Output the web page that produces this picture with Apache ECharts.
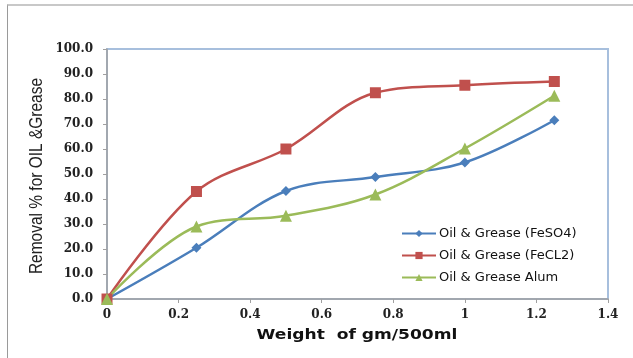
<!DOCTYPE html>
<html>
<head>
<meta charset="utf-8">
<script src="https://cdn.jsdelivr.net/npm/echarts@6/dist/echarts.min.js"></script>
<style>
  html, body { margin: 0; padding: 0; background: #fff; }
  #frame { position: absolute; left: 7px; top: 4px; width: 640px; height: 360px;
           border-left: 1px solid #9a9a9a; border-top: 2px solid #c8c8c8; }
  #chart { position: absolute; left: 0; top: 0; width: 633px; height: 358px; }
</style>
</head>
<body>
<div id="frame"></div>
<div id="chart"></div>
<script>
// Dose of coagulant (gm per 500 ml) and removal of oil & grease (%)
const doses = [0, 0.25, 0.5, 0.75, 1.0, 1.25];
const feso4 = [0, 20.5, 43.2, 48.8, 54.6, 71.5];
const fecl2 = [0, 43.0, 60.0, 82.5, 85.5, 87.0];
const alum  = [0, 29.0, 33.3, 41.8, 60.2, 81.3];

const xTicks = ['0', '0.2', '0.4', '0.6', '0.8', '1', '1.2', '1.4'];
const yTicks = ['0.0', '10.0', '20.0', '30.0', '40.0', '50.0', '60.0', '70.0', '80.0', '90.0', '100.0'];

const seriesNames = ['Oil & Grease (FeSO4)', 'Oil & Grease (FeCL2)', 'Oil & Grease Alum'];
const xTitle = 'Weight  of gm/500ml';
const yTitle = 'Removal % for OIL &Grease';

const tickFont = { fontFamily: 'DejaVu Serif', fontWeight: 'bold', fontSize: 12, color: '#222' };

function pairs(ys) { return doses.map((x, i) => [x, ys[i]]); }

function lineSeries(name, ys, color, symbol, size) {
  return {
    name: name,
    type: 'line',
    data: pairs(ys),
    smooth: 0.35,
    symbol: symbol,
    symbolSize: size,
    lineStyle: { color: color, width: 2.5 },
    itemStyle: { color: color },
    emphasis: { disabled: true }
  };
}

const chart = echarts.init(document.getElementById('chart'));
chart.setOption({
  animation: false,
  backgroundColor: 'transparent',
  grid: {
    left: 107, right: 25, top: 49, bottom: 59,
    show: true, borderColor: '#a7bfdd', borderWidth: 2, backgroundColor: 'transparent'
  },
  xAxis: {
    type: 'value', min: 0, max: 1.4, interval: 0.2,
    axisLine: { show: true, lineStyle: { color: '#a0a0a0', width: 1.5 } },
    axisTick: { show: true, length: 4, lineStyle: { color: '#a0a0a0' } },
    splitLine: { show: false },
    axisLabel: Object.assign({ margin: 10, formatter: (v) => xTicks[Math.round(v / 0.2)] }, tickFont)
  },
  yAxis: {
    type: 'value', min: 0, max: 100, interval: 10,
    axisLine: { show: true, lineStyle: { color: '#a0a0a0', width: 1.5 } },
    axisTick: { show: true, length: 4, lineStyle: { color: '#a0a0a0' } },
    splitLine: { show: false },
    axisLabel: Object.assign({ margin: 14, formatter: (v) => yTicks[Math.round(v / 10)] }, tickFont)
  },
  // Axis titles: a wide bold one below, a tall condensed one at the left
  graphic: [
    {
      type: 'text', x: 357, y: 335, scaleX: 1.22,
      style: { text: xTitle, fontFamily: 'DejaVu Sans', fontWeight: 'bold', fontSize: 14,
               fill: '#111', align: 'center', verticalAlign: 'middle' }
    },
    {
      type: 'text', x: 37, y: 176, rotation: Math.PI / 2, scaleX: 0.86,
      style: { text: yTitle, fontFamily: 'Liberation Sans', fontSize: 18,
               fill: '#222', align: 'center', verticalAlign: 'middle' }
    }
  ],
  legend: {
    orient: 'vertical', left: 396, top: 222,
    itemWidth: 34, itemHeight: 9, itemGap: 9,
    textStyle: { fontFamily: 'DejaVu Sans', fontSize: 13, color: '#111', padding: [0, 0, 0, -2] },
    data: seriesNames
  },
  series: [
    lineSeries(seriesNames[0], feso4, '#4a7ebb', 'diamond', 10),
    lineSeries(seriesNames[1], fecl2, '#c0504d', 'rect', 11),
    lineSeries(seriesNames[2], alum, '#9bbb59', 'triangle', 12)
  ]
});
</script>
</body>
</html>
